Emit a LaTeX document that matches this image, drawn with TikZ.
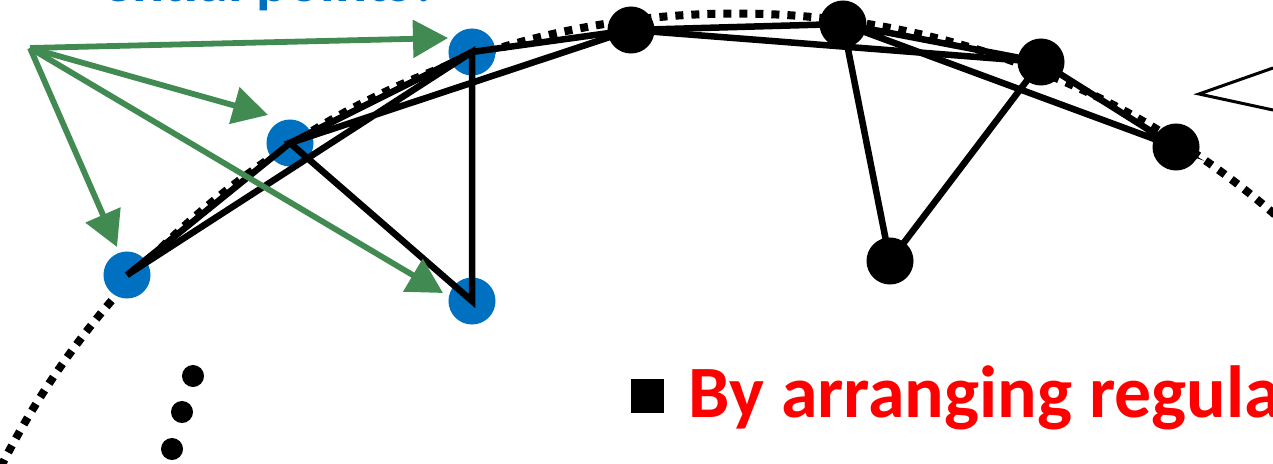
\documentclass[tikz,border=0pt]{standalone}
\usepackage{fontspec}
\setmainfont{Carlito}
\usetikzlibrary{arrows.meta}

\definecolor{ptblue}{RGB}{0,112,192}
\definecolor{hintgreen}{RGB}{65,138,82}

\begin{document}
\begin{tikzpicture}[x=0.01cm, y=-0.01cm,
        bluept/.style={circle, fill=ptblue, minimum size=0.47cm, inner sep=0},
        blackpt/.style={circle, fill=black, minimum size=0.47cm, inner sep=0},
        link/.style={line width=0.065cm},
        hint/.style={hintgreen, line width=0.058cm, -{Triangle[length=0.35cm, width=0.37cm]}}]
        \clip (0,0) rectangle (1273,464);

        % gekruemmte Kontur (gepunktet)
        \draw[line width=0.08cm, dash pattern=on 0.08cm off 0.08cm] (736,836) circle[radius=8.22cm];

        % Punkte auf der Kontur
        \node[bluept] (b1) at (127,275) {};
        \node[bluept] (b2) at (290,143) {};
        \node[bluept] (b3) at (472,52) {};
        \node[bluept] (b4) at (472,301) {};
        \node[blackpt] (k1) at (631,30) {};
        \node[blackpt] (k2) at (843,24) {};
        \node[blackpt] (k3) at (1041,62) {};
        \node[blackpt] (k4) at (1176,147) {};
        \node[blackpt] (k5) at (890,261) {};

        % Verbindungen
        \draw[link] (b1.center) -- (b2.center) -- (b3.center) -- (k1.center);
        \draw[link] (b1.center) -- (b3.center) -- (b4.center) -- (b2.center) -- (k1.center);
        \draw[link] (k1.center) -- (k2.center) -- (k3.center) -- (k4.center) -- (k2.center);
        \draw[link] (k1.center) -- (k3.center) -- (k5.center) -- (k2.center);

        % Pfeile
        \coordinate (src) at (30,48);
        \coordinate (t1) at (117,247);
        \coordinate (t2) at (268,115);
        \coordinate (t3) at (448,38);
        \coordinate (t4) at (443,293);
        \draw[hint] (src) -- (t1);
        \draw[hint] (src) -- (t2);
        \draw[hint] (src) -- (t3);
        \draw[hint] (src) -- (t4);

        % Auslassungspunkte
        \fill (193,376) circle[radius=0.11cm];
        \fill (182,412) circle[radius=0.11cm];
        \fill (172,449) circle[radius=0.11cm];

        % Sprechblase (Rand)
        \draw[line width=0.03cm] (1273,68) -- (1199,94) -- (1273,110);

        % Texte
        \node[anchor=base east, inner sep=0, text=ptblue, font=\bfseries\fontsize{17}{20}\selectfont] (ask) at (440,2) {ential points?};
        \node[fill, inner sep=0, minimum size=0.33cm] (bullet) at (647,396) {};
        \node[anchor=base west, inner sep=0, text=red, font=\bfseries\fontsize{21}{25}\selectfont] (rule) at (688,417) {By arranging regular};
\end{tikzpicture}
\end{document}
